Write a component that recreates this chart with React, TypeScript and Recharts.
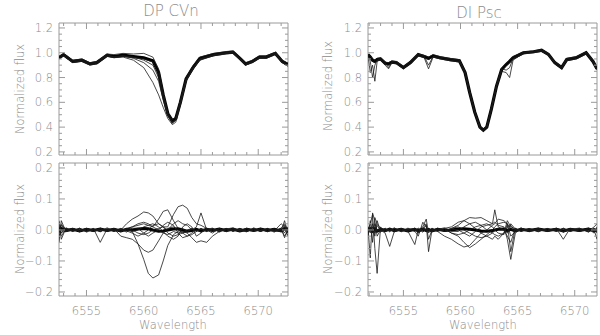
import { LineChart, Line, XAxis, YAxis, ReferenceArea } from 'recharts';

// ---- DP CVn, top panel (normalized spectra) ----
const waveTopL = [
  6552.6, 6553.0, 6553.8, 6554.6, 6555.3, 6555.9, 6556.8, 6557.4, 6558.2, 6559.1,
  6560.0, 6560.8, 6561.3, 6561.7, 6562.1, 6562.5, 6562.8, 6563.2, 6563.7, 6564.3,
  6564.9, 6566.1, 6567.2, 6567.8, 6568.4, 6568.9, 6569.5, 6570.1, 6570.7, 6571.5,
  6572.1, 6572.6,
];
const dpMean = [0.96, 0.985, 0.93, 0.94, 0.91, 0.92, 0.98, 0.97, 0.98, 0.97, 0.96, 0.935, 0.84, 0.66, 0.51, 0.45, 0.47, 0.60, 0.79, 0.88, 0.955, 0.985, 1.0, 1.005, 0.955, 0.91, 0.93, 0.965, 0.965, 0.995, 0.93, 0.905];
const dpV1 = [0.95, 0.975, 0.92, 0.935, 0.905, 0.915, 0.975, 0.96, 0.965, 0.94, 0.88, 0.76, 0.66, 0.56, 0.47, 0.42, 0.44, 0.58, 0.77, 0.87, 0.94, 0.98, 0.995, 1.0, 0.945, 0.9, 0.925, 0.96, 0.96, 0.99, 0.92, 0.89];
const dpV2 = [0.965, 0.99, 0.935, 0.945, 0.915, 0.925, 0.985, 0.965, 0.975, 0.955, 0.92, 0.86, 0.77, 0.62, 0.49, 0.43, 0.455, 0.59, 0.78, 0.875, 0.95, 0.98, 1.0, 1.01, 0.95, 0.905, 0.93, 0.965, 0.97, 1.0, 0.935, 0.9];
const dpV3 = [0.955, 0.98, 0.925, 0.94, 0.91, 0.92, 0.975, 0.97, 0.975, 0.965, 0.94, 0.90, 0.80, 0.64, 0.50, 0.44, 0.46, 0.60, 0.785, 0.875, 0.95, 0.985, 1.0, 1.005, 0.955, 0.91, 0.93, 0.96, 0.965, 0.995, 0.925, 0.895];
const dpV4 = [0.97, 0.995, 0.94, 0.95, 0.92, 0.93, 0.99, 0.985, 0.995, 0.99, 0.995, 0.965, 0.87, 0.68, 0.52, 0.46, 0.48, 0.62, 0.80, 0.895, 0.965, 0.995, 1.01, 1.015, 0.965, 0.92, 0.94, 0.975, 0.975, 1.005, 0.94, 0.915];
const dpV5 = [0.95, 0.975, 0.92, 0.93, 0.9, 0.91, 0.97, 0.96, 0.97, 0.96, 0.95, 0.925, 0.83, 0.65, 0.5, 0.44, 0.46, 0.585, 0.77, 0.865, 0.94, 0.975, 0.99, 0.995, 0.945, 0.9, 0.92, 0.955, 0.955, 0.985, 0.92, 0.895];

// ---- DP CVn, bottom panel (residuals) ----
const waveResL = [
  6552.6, 6552.8, 6553.2, 6553.8, 6554.4, 6555.0, 6555.6, 6556.2, 6556.8, 6557.4,
  6558.0, 6558.5, 6559.0, 6559.5, 6560.0, 6560.4, 6560.8, 6561.3, 6561.7, 6562.1,
  6562.6, 6563.0, 6563.4, 6563.8, 6564.2, 6564.6, 6565.0, 6565.5, 6566.0, 6566.6,
  6567.2, 6567.8, 6568.4, 6569.0, 6569.6, 6570.2, 6570.8, 6571.4, 6572.0, 6572.3,
  6572.6,
];
const dpBand = [0.0, 0.005, -0.002, 0.002, -0.003, 0.002, -0.002, 0.003, -0.002, 0.002, -0.003, 0.002, 0.0, 0.003, 0.005, 0.004, 0.0, -0.004, -0.003, 0.0, 0.003, 0.004, 0.0, -0.004, -0.002, 0.002, -0.003, 0.002, -0.002, 0.003, -0.002, 0.002, -0.003, 0.002, -0.002, 0.003, -0.002, 0.002, -0.003, 0.004, 0.0];
const dpR1 = [0.02, -0.03, 0.005, -0.004, 0.003, -0.005, 0.004, -0.003, 0.002, -0.004, 0.003, 0.0, -0.005, -0.045, -0.095, -0.14, -0.155, -0.145, -0.1, -0.05, -0.015, -0.005, 0.004, -0.006, 0.003, -0.004, 0.005, -0.003, 0.004, -0.005, 0.003, -0.004, 0.005, -0.003, 0.004, -0.005, 0.003, -0.004, 0.006, -0.01, 0.01];
const dpR2 = [-0.04, 0.03, -0.005, 0.004, -0.003, 0.005, -0.004, 0.003, -0.005, 0.004, -0.02, -0.025, -0.03, -0.045, -0.065, -0.072, -0.065, -0.035, -0.01, 0.005, 0.01, 0.0, -0.01, -0.005, 0.004, -0.003, 0.005, -0.004, 0.003, -0.005, 0.004, -0.003, 0.005, -0.004, 0.003, -0.005, 0.004, -0.003, 0.02, 0.01, -0.02];
const dpR3 = [0.03, -0.01, 0.004, -0.005, 0.003, -0.004, 0.005, -0.04, 0.003, -0.005, 0.0, 0.02, 0.035, 0.045, 0.058, 0.055, 0.045, 0.02, 0.01, -0.01, -0.02, -0.015, -0.01, 0.0, 0.005, -0.004, 0.003, -0.005, 0.004, -0.003, 0.005, -0.004, 0.003, -0.005, 0.004, -0.003, 0.005, -0.004, -0.005, 0.03, -0.01];
const dpR4 = [-0.01, 0.01, -0.003, 0.005, -0.004, 0.003, -0.005, 0.004, -0.003, 0.005, -0.004, 0.003, 0.01, 0.015, 0.02, 0.015, 0.01, 0.035, 0.06, 0.065, 0.03, 0.005, -0.01, -0.02, -0.015, -0.005, 0.003, -0.005, 0.004, -0.003, 0.005, -0.004, 0.003, -0.005, 0.004, -0.003, 0.005, -0.004, 0.003, -0.02, 0.0];
const dpR5 = [0.0, 0.015, 0.004, -0.003, 0.005, -0.004, 0.003, -0.005, 0.004, -0.003, 0.005, -0.004, 0.0, -0.01, -0.015, -0.01, 0.0, 0.005, 0.01, 0.01, 0.05, 0.075, 0.08, 0.07, 0.04, 0.02, 0.015, 0.005, -0.004, 0.003, -0.005, 0.004, -0.003, 0.005, -0.004, 0.003, -0.005, 0.004, -0.003, 0.01, 0.005];
const dpR6 = [-0.02, 0.0, -0.005, 0.003, -0.004, 0.005, -0.003, 0.004, -0.005, 0.003, -0.004, 0.005, 0.01, 0.02, 0.025, 0.02, 0.01, 0.0, -0.01, -0.015, -0.005, -0.01, -0.005, -0.01, -0.025, -0.04, -0.035, -0.04, -0.02, -0.005, 0.004, -0.003, 0.005, -0.004, 0.003, -0.005, 0.004, -0.003, 0.005, -0.025, 0.0];
const dpR7 = [0.01, -0.02, 0.003, -0.004, 0.005, -0.003, 0.004, -0.005, 0.003, -0.004, 0.005, -0.003, -0.01, -0.02, -0.01, 0.0, 0.015, 0.02, 0.01, 0.0, 0.02, 0.03, 0.02, 0.015, 0.0, 0.01, 0.055, 0.0, -0.01, 0.005, -0.004, 0.003, -0.005, 0.004, -0.003, 0.005, -0.004, 0.003, -0.005, 0.015, -0.01];
const dpR8 = [-0.005, 0.02, -0.006, 0.005, -0.006, 0.004, -0.005, 0.006, -0.004, 0.005, -0.006, 0.004, -0.005, 0.0, 0.01, 0.015, 0.02, 0.01, -0.005, -0.02, -0.03, -0.02, 0.01, 0.02, 0.01, -0.02, -0.01, 0.006, -0.004, 0.005, -0.006, 0.004, -0.005, 0.006, -0.004, 0.005, -0.006, 0.004, -0.005, 0.0, 0.005];
const dpR9 = [0.005, -0.01, 0.007, -0.002, 0.006, -0.007, 0.002, -0.006, 0.007, -0.003, 0.002, -0.007, 0.006, 0.005, -0.01, -0.02, -0.01, 0.0, 0.015, 0.025, 0.015, -0.01, -0.025, -0.02, -0.01, 0.0, -0.007, 0.002, 0.006, -0.007, 0.003, 0.007, -0.002, -0.006, 0.007, -0.003, 0.002, -0.007, 0.006, 0.02, -0.005];

// ---- DI Psc, top panel ----
const waveTopR = [
  6551.9, 6552.1, 6552.3, 6552.5, 6552.7, 6553.0, 6553.4, 6553.7, 6554.0, 6554.4,
  6555.0, 6555.6, 6556.3, 6556.8, 6557.2, 6557.6, 6558.2, 6559.1, 6559.9, 6560.4,
  6560.8, 6561.25, 6561.7, 6562.0, 6562.3, 6562.7, 6563.15, 6563.6, 6564.0, 6564.3,
  6564.6, 6565.5, 6566.4, 6567.1, 6567.7, 6568.25, 6568.85, 6569.3, 6570.15, 6571.0,
  6571.6, 6571.95,
];
const diMean = [0.985, 0.965, 0.94, 0.93, 0.945, 0.95, 0.915, 0.91, 0.925, 0.92, 0.88, 0.92, 0.985, 0.97, 0.955, 0.975, 0.96, 0.945, 0.935, 0.84, 0.68, 0.52, 0.40, 0.375, 0.40, 0.545, 0.73, 0.865, 0.905, 0.93, 0.96, 1.0, 1.008, 1.02, 0.987, 0.92, 0.88, 0.945, 0.96, 1.0, 0.93, 0.87];
const diV1 = [0.98, 0.84, 0.9, 0.77, 0.93, 0.945, 0.9, 0.87, 0.92, 0.915, 0.875, 0.915, 0.98, 0.965, 0.87, 0.965, 0.955, 0.94, 0.93, 0.835, 0.675, 0.515, 0.395, 0.37, 0.395, 0.54, 0.725, 0.85, 0.84, 0.80, 0.94, 0.995, 1.005, 1.015, 0.98, 0.915, 0.875, 0.94, 0.955, 0.995, 0.925, 0.865];
const diV2 = [0.99, 0.93, 0.80, 0.9, 0.94, 0.955, 0.92, 0.88, 0.93, 0.925, 0.885, 0.925, 0.99, 0.975, 0.9, 0.97, 0.965, 0.95, 0.94, 0.845, 0.685, 0.525, 0.405, 0.38, 0.405, 0.55, 0.735, 0.87, 0.86, 0.88, 0.955, 1.0, 1.01, 1.02, 0.99, 0.925, 0.885, 0.95, 0.965, 1.005, 0.935, 0.875];
const diV3 = [0.99, 0.975, 0.95, 0.94, 0.955, 0.96, 0.925, 0.92, 0.935, 0.93, 0.89, 0.93, 0.99, 0.98, 0.965, 0.985, 0.97, 0.955, 0.945, 0.85, 0.69, 0.53, 0.41, 0.385, 0.41, 0.555, 0.74, 0.875, 0.915, 0.94, 0.97, 1.005, 1.015, 1.025, 0.995, 0.93, 0.89, 0.955, 0.97, 1.01, 0.94, 0.88];
const diV4 = [0.975, 0.955, 0.93, 0.92, 0.935, 0.94, 0.905, 0.9, 0.915, 0.91, 0.87, 0.91, 0.975, 0.96, 0.945, 0.965, 0.95, 0.935, 0.925, 0.83, 0.67, 0.51, 0.39, 0.365, 0.39, 0.535, 0.72, 0.855, 0.895, 0.92, 0.95, 0.99, 1.0, 1.01, 0.98, 0.91, 0.87, 0.935, 0.95, 0.99, 0.92, 0.86];

// ---- DI Psc, bottom panel ----
const waveResR = [
  6551.9, 6552.1, 6552.3, 6552.5, 6552.7, 6553.0, 6553.4, 6553.8, 6554.2, 6554.8,
  6555.4, 6556.0, 6556.3, 6556.7, 6557.0, 6557.2, 6557.5, 6558.0, 6558.6, 6559.2,
  6559.8, 6560.3, 6560.8, 6561.3, 6561.8, 6562.3, 6562.8, 6563.0, 6563.3, 6563.8,
  6564.1, 6564.4, 6564.8, 6565.3, 6566.0, 6566.8, 6567.6, 6568.4, 6569.0, 6569.6,
  6570.4, 6571.2, 6571.7, 6571.95,
];
const diBand = [0.0, 0.004, -0.003, 0.003, -0.004, 0.002, -0.002, 0.003, -0.002, 0.002, -0.003, 0.002, -0.002, 0.003, -0.002, 0.002, -0.003, 0.002, -0.002, 0.0, 0.003, 0.004, 0.002, 0.0, -0.003, -0.004, -0.002, 0.0, 0.002, 0.003, -0.002, 0.002, -0.003, 0.002, -0.002, 0.003, -0.002, 0.002, -0.003, 0.002, -0.002, 0.003, -0.002, 0.0];
const diR1 = [0.0, 0.02, 0.05, -0.06, -0.14, 0.01, -0.005, 0.004, -0.003, 0.005, -0.004, 0.003, -0.01, 0.005, 0.02, -0.07, 0.0, 0.004, -0.005, 0.003, 0.0, -0.01, -0.02, -0.005, 0.01, 0.015, 0.02, 0.025, 0.015, 0.01, -0.03, -0.095, -0.01, 0.005, -0.003, 0.004, -0.005, 0.003, -0.004, 0.003, -0.005, 0.004, 0.0, -0.03];
const diR2 = [0.01, -0.09, 0.055, 0.03, -0.02, 0.0, -0.01, -0.053, -0.005, 0.003, -0.004, -0.047, 0.0, 0.01, 0.035, -0.01, 0.005, -0.003, 0.004, -0.01, -0.02, -0.04, -0.057, -0.045, -0.03, -0.015, 0.0, 0.01, 0.02, 0.025, 0.02, -0.07, 0.005, -0.004, 0.003, -0.005, 0.004, -0.003, 0.005, -0.004, 0.003, -0.005, 0.004, 0.0];
const diR3 = [-0.02, 0.03, -0.04, 0.04, 0.02, 0.005, 0.003, -0.004, 0.005, -0.003, 0.004, -0.004, -0.02, 0.025, 0.01, 0.0, -0.005, 0.003, -0.004, 0.005, 0.015, 0.03, 0.04, 0.038, 0.04, 0.03, 0.02, 0.065, 0.01, 0.0, -0.01, 0.02, 0.003, -0.004, 0.005, -0.003, 0.004, -0.005, 0.003, -0.004, 0.005, -0.003, 0.01, 0.02];
const diR4 = [0.005, -0.01, 0.02, -0.02, 0.03, -0.005, 0.004, -0.003, 0.004, -0.005, 0.003, 0.005, -0.01, 0.0, 0.015, -0.03, 0.0, -0.005, -0.02, -0.03, -0.045, -0.055, -0.05, -0.03, -0.01, 0.0, 0.015, 0.02, 0.035, 0.03, 0.02, -0.02, -0.005, 0.003, -0.004, 0.005, -0.003, 0.004, -0.03, 0.005, -0.004, 0.003, -0.01, 0.01];
const diR5 = [0.0, 0.01, -0.01, 0.02, 0.0, 0.003, -0.005, 0.004, -0.003, 0.005, -0.004, 0.003, -0.005, 0.004, 0.0, -0.005, 0.004, -0.003, 0.005, 0.01, 0.025, 0.03, 0.02, 0.005, -0.01, -0.02, -0.03, -0.02, -0.03, -0.01, 0.03, 0.01, 0.004, -0.005, 0.003, -0.004, 0.005, -0.003, 0.004, -0.005, 0.003, -0.004, 0.005, -0.01];
const diR6 = [0.01, -0.005, 0.01, -0.01, 0.015, -0.004, 0.006, -0.006, 0.005, -0.004, 0.006, -0.005, 0.004, -0.006, 0.005, -0.004, 0.006, -0.005, 0.004, -0.01, -0.015, -0.01, 0.0, 0.01, 0.015, 0.02, 0.01, 0.0, -0.01, -0.015, 0.02, 0.005, -0.006, 0.005, -0.004, 0.006, -0.005, 0.004, -0.006, 0.005, -0.004, 0.006, -0.005, 0.005];
const diR7 = [-0.01, 0.005, -0.01, 0.01, -0.005, 0.006, -0.004, 0.005, -0.006, 0.004, -0.005, 0.006, -0.004, 0.005, -0.006, 0.004, -0.005, 0.006, -0.004, 0.005, 0.01, 0.0, -0.01, -0.02, -0.025, -0.02, -0.01, 0.0, 0.005, 0.0, -0.02, -0.04, 0.006, -0.004, 0.005, -0.006, 0.004, -0.005, 0.006, -0.004, 0.005, -0.006, 0.004, 0.0];
const diR8 = [0.005, 0.0, 0.008, -0.005, 0.0, -0.007, 0.003, -0.002, 0.007, -0.006, 0.002, -0.003, 0.006, -0.007, 0.003, 0.002, -0.006, 0.002, 0.007, -0.004, -0.005, 0.01, 0.02, 0.025, 0.015, 0.0, -0.01, -0.015, -0.02, -0.01, 0.01, 0.015, -0.004, 0.007, -0.006, 0.002, -0.003, 0.006, -0.007, 0.002, 0.006, -0.007, 0.003, -0.005];

// ---- ticks ----
const xTicksL = [6553, 6554, 6555, 6556, 6557, 6558, 6559, 6560, 6561, 6562, 6563, 6564, 6565, 6566, 6567, 6568, 6569, 6570, 6571, 6572];
const xTicksR = [6552, 6553, 6554, 6555, 6556, 6557, 6558, 6559, 6560, 6561, 6562, 6563, 6564, 6565, 6566, 6567, 6568, 6569, 6570, 6571];
const yTicksTop = [0.2, 0.25, 0.3, 0.35, 0.4, 0.45, 0.5, 0.55, 0.6, 0.65, 0.7, 0.75, 0.8, 0.85, 0.9, 0.95, 1.0, 1.05, 1.1, 1.15, 1.2];
const yTicksRes = [-0.2, -0.18, -0.16, -0.14, -0.12, -0.1, -0.08, -0.06, -0.04, -0.02, 0, 0.02, 0.04, 0.06, 0.08, 0.1, 0.12, 0.14, 0.16, 0.18, 0.2];

const GRAY = '#8c8c8c';
const FRAME = '#9a9a9a';
const FONT = '"DejaVu Sans", Verdana, sans-serif';
const WEIGHT = 200;

const rowsOf = (grid: number[], series: Record<string, number[]>) =>
  grid.map((w, i) => {
    const r: Record<string, number> = { w };
    Object.keys(series).forEach((k) => {
      r[k] = series[k][i];
    });
    return r;
  });

const makeXTick = (plotH: number, labels: boolean) => (props: any) => {
  const { x, y, payload } = props;
  const v = payload.value;
  const major = Math.abs(v % 5) < 1e-6;
  const len = major ? 6 : 3;
  return (
    <g>
      <line x1={x} y1={y} x2={x} y2={y - len} stroke={FRAME} />
      <line x1={x} y1={y - plotH} x2={x} y2={y - plotH + len} stroke={FRAME} />
      {labels && major && (
        <text x={x} y={y + 18.5} textAnchor="middle" fill={GRAY} fontSize={11.5} fontFamily={FONT} fontWeight={WEIGHT}>
          {v}
        </text>
      )}
    </g>
  );
};

const makeYTick = (plotW: number, step: number) => (props: any) => {
  const { x, y, payload } = props;
  const v = payload.value;
  const major = Math.abs(v / step - Math.round(v / step)) < 1e-6;
  const len = major ? 6 : 3;
  const label = v.toFixed(1).replace('-', '\u2212');
  return (
    <g>
      <line x1={x} y1={y} x2={x + len} y2={y} stroke={FRAME} />
      <line x1={x + plotW} y1={y} x2={x + plotW - len} y2={y} stroke={FRAME} />
      {major && (
        <text x={x - 6} y={y + 4} textAnchor="end" fill={GRAY} fontSize={11.5} fontFamily={FONT} fontWeight={WEIGHT}>
          {label}
        </text>
      )}
    </g>
  );
};

type PanelProps = {
  left: number;
  top: number;
  height: number;
  mLeft: number;
  mRight: number;
  mBottom: number;
  xHeight: number;
  rows: Record<string, number>[];
  thin: string[];
  thick?: string;
  thickWidth?: number;
  xDomain: [number, number];
  xTicks: number[];
  xLabels: boolean;
  yDomain: [number, number];
  yTicks: number[];
  yStep: number;
};

const WIDTH = 300;
const TOP_M = 23;
const Y_W = 40;

const Panel = (p: PanelProps) => {
  const plotW = WIDTH - p.mLeft - p.mRight - Y_W;
  const plotH = p.height - TOP_M - p.mBottom - p.xHeight;
  return (
    <div style={{ position: 'absolute', left: p.left, top: p.top }}>
      <LineChart
        width={WIDTH}
        height={p.height}
        data={p.rows}
        margin={{ top: TOP_M, right: p.mRight, bottom: p.mBottom, left: p.mLeft }}
      >
        <XAxis
          dataKey="w"
          type="number"
          domain={p.xDomain}
          allowDataOverflow
          ticks={p.xTicks}
          interval={0}
          height={p.xHeight}
          axisLine={false}
          tickLine={false}
          tickSize={0}
          tickMargin={0}
          tick={makeXTick(plotH, p.xLabels)}
        />
        <YAxis
          type="number"
          domain={p.yDomain}
          allowDataOverflow
          ticks={p.yTicks}
          interval={0}
          width={Y_W}
          axisLine={false}
          tickLine={false}
          tickSize={0}
          tickMargin={0}
          tick={makeYTick(plotW, p.yStep)}
        />
        {p.thick && (
          <Line
            dataKey={p.thick}
            type="linear"
            stroke="#000"
            strokeWidth={p.thickWidth ?? 3}
            dot={false}
            isAnimationActive={false}
          />
        )}
        {p.thin.map((k) => (
          <Line
            key={k}
            dataKey={k}
            type="linear"
            stroke="#1a1a1a"
            strokeWidth={0.8}
            dot={false}
            isAnimationActive={false}
          />
        ))}
        <ReferenceArea
          x1={p.xDomain[0]}
          x2={p.xDomain[1]}
          y1={p.yDomain[0]}
          y2={p.yDomain[1]}
          fill="none"
          fillOpacity={0}
          stroke={FRAME}
          strokeWidth={1}
        />
      </LineChart>
    </div>
  );
};

const textBase = {
  position: 'absolute' as const,
  color: GRAY,
  fontFamily: FONT,
  fontWeight: WEIGHT,
  whiteSpace: 'nowrap' as const,
  lineHeight: 1,
};

const Centered = ({ x, y, size, text, rotate }: { x: number; y: number; size: number; text: string; rotate?: boolean }) => (
  <div
    style={{
      ...textBase,
      left: x,
      top: y,
      fontSize: size,
      transform: `translate(-50%, -50%)${rotate ? ' rotate(-90deg)' : ''}`,
    }}
  >
    {text}
  </div>
);

const X_DOM_L: [number, number] = [6552.6, 6572.6];
const X_DOM_R: [number, number] = [6551.9, 6571.95];
const Y_DOM_TOP: [number, number] = [0.175, 1.24];
const Y_DOM_RES: [number, number] = [-0.213, 0.216];

export default function App() {
  const topL = rowsOf(waveTopL, { v1: dpV1, v2: dpV2, v3: dpV3, v4: dpV4, v5: dpV5, mean: dpMean });
  const resL = rowsOf(waveResL, { band: dpBand, r1: dpR1, r2: dpR2, r3: dpR3, r4: dpR4, r5: dpR5, r6: dpR6, r7: dpR7, r8: dpR8, r9: dpR9 });
  const topR = rowsOf(waveTopR, { v1: diV1, v2: diV2, v3: diV3, v4: diV4, mean: diMean });
  const resR = rowsOf(waveResR, { band: diBand, r1: diR1, r2: diR2, r3: diR3, r4: diR4, r5: diR5, r6: diR6, r7: diR7, r8: diR8 });

  return (
    <div style={{ position: 'absolute', left: 0, top: 0, width: 600, height: 335, background: '#fff', overflow: 'hidden' }}>
      <Panel
        left={0} top={0} height={160} mLeft={19} mRight={12} mBottom={0} xHeight={5}
        rows={topL} thin={['v1', 'v2', 'v3', 'v4', 'v5']} thick="mean" thickWidth={3.2}
        xDomain={X_DOM_L} xTicks={xTicksL} xLabels={false}
        yDomain={Y_DOM_TOP} yTicks={yTicksTop} yStep={0.2}
      />
      <Panel
        left={0} top={140} height={195} mLeft={19} mRight={12} mBottom={9} xHeight={30}
        rows={resL} thin={['r1', 'r2', 'r3', 'r4', 'r5', 'r6', 'r7', 'r8', 'r9']} thick="band" thickWidth={3}
        xDomain={X_DOM_L} xTicks={xTicksL} xLabels
        yDomain={Y_DOM_RES} yTicks={yTicksRes} yStep={0.1}
      />
      <Panel
        left={300} top={0} height={160} mLeft={28} mRight={3} mBottom={0} xHeight={5}
        rows={topR} thin={['v1', 'v2', 'v3', 'v4']} thick="mean" thickWidth={3.2}
        xDomain={X_DOM_R} xTicks={xTicksR} xLabels={false}
        yDomain={Y_DOM_TOP} yTicks={yTicksTop} yStep={0.2}
      />
      <Panel
        left={300} top={140} height={195} mLeft={28} mRight={3} mBottom={9} xHeight={30}
        rows={resR} thin={['r1', 'r2', 'r3', 'r4', 'r5', 'r6', 'r7', 'r8']} thick="band" thickWidth={3}
        xDomain={X_DOM_R} xTicks={xTicksR} xLabels
        yDomain={Y_DOM_RES} yTicks={yTicksRes} yStep={0.1}
      />

      <Centered x={171} y={11} size={15} text="DP  CVn" />
      <Centered x={479} y={13} size={15} text="DI  Psc" />
      <Centered x={21} y={89} size={11.5} text="Normalized  flux" rotate />
      <Centered x={21} y={229} size={11.5} text="Normalized  flux" rotate />
      <Centered x={329} y={86} size={11.5} text="Normalized  flux" rotate />
      <Centered x={329} y={229} size={11.5} text="Normalized  flux" rotate />
      <Centered x={173} y={326} size={11.5} text="Wavelength" />
      <Centered x={483} y={326} size={11.5} text="Wavelength" />
    </div>
  );
}
